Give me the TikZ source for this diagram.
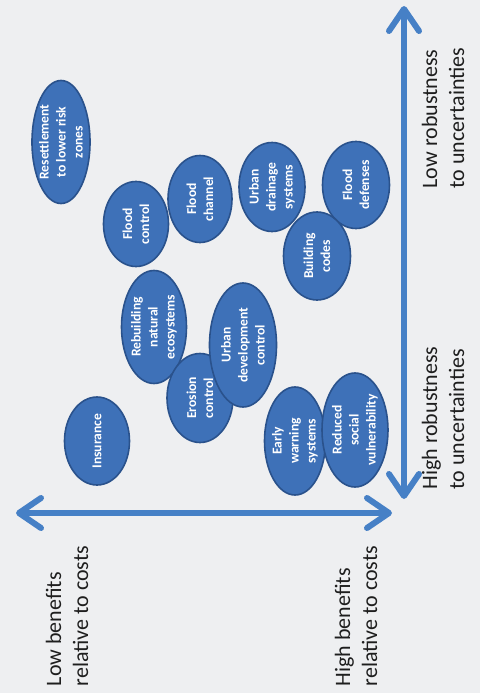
\documentclass[tikz,border=0pt]{standalone}
\usepackage{fontspec}
\setmainfont{Carlito}
\usetikzlibrary{shapes.geometric,arrows.meta}
\definecolor{axisblue}{RGB}{70,128,198}
\definecolor{ellfill}{RGB}{62,113,184}
\definecolor{elledge}{RGB}{42,82,140}
\definecolor{bgcol}{RGB}{238,239,241}
\definecolor{labcol}{RGB}{30,30,30}
\begin{document}
\begin{tikzpicture}[x=1pt,y=-1pt,
  optshape/.style={ellipse, draw=elledge, line width=1.6pt, fill=ellfill, inner sep=0pt, rotate=90},
  opttext/.style={text=white, font=\fontsize{13.6}{17}\selectfont\bfseries, align=center, inner sep=0pt, rotate=90},
  axislabel/.style={font=\fontsize{22}{27}\selectfont, align=left, rotate=90, text=labcol, inner sep=0pt},
  axisline/.style={line width=6pt, draw=axisblue, line cap=round,
    {Straight Barb[length=22pt, width=30pt, line width=6pt, round]}-{Straight Barb[length=22pt, width=30pt, line width=6pt, round]}}]
\useasboundingbox (0,0) rectangle (480,693);
\fill[bgcol] (0,0) rectangle (480,693);

% axes
\coordinate (vtop) at (404,6);
\coordinate (vbot) at (404,499);
\coordinate (hleft) at (16,513);
\coordinate (hright) at (392,513);
\draw[axisline] (vbot) -- (vtop);
\draw[axisline] (hleft) -- (hright);

% axis labels
\node[axislabel] (lowrob) at (443,118) {Low robustness\\to uncertainties};
\node[axislabel] (highrob) at (443,418) {High robustness\\to uncertainties};
\node[axislabel] (lowben) at (67,616) {Low benefits\\relative to costs};
\node[axislabel] (highben) at (356,616) {High benefits\\relative to costs};

% options (minimum width = vertical extent, minimum height = horizontal extent)
\node[optshape, minimum width=123pt, minimum height=58pt] (res) at (61,142) {};
\node[opttext] (res-t) at (res.center) {Resettlement\\to lower risk\\zones};

\node[optshape, minimum width=85pt, minimum height=65pt] (fc) at (136,224) {};
\node[opttext] (fc-t) at (fc.center) {Flood\\control};

\node[optshape, minimum width=87pt, minimum height=64pt] (fch) at (200,199) {};
\node[opttext] (fch-t) at (fch.center) {Flood\\channel};

\node[optshape, minimum width=89pt, minimum height=66pt] (uds) at (272,187) {};
\node[opttext] (uds-t) at (uds.center) {Urban\\drainage\\systems};

\node[optshape, minimum width=87pt, minimum height=67pt] (fd) at (356,185) {};
\node[opttext] (fd-t) at (fd.center) {Flood\\defenses};

\node[optshape, minimum width=88pt, minimum height=67pt] (bc) at (317,256) {};
\node[opttext] (bc-t) at (bc.center) {Building\\codes};

\node[optshape, minimum width=113pt, minimum height=65pt] (rne) at (154,327) {};
\node[opttext] (rne-t) at (rne.center) {Rebuilding\\natural\\ecosystems};

\node[optshape, minimum width=89pt, minimum height=66pt] (ec) at (200,398) {};
\node[opttext] (ec-t) at (ec.center) {Erosion\\control};

\node[optshape, minimum width=124pt, minimum height=67pt] (udc) at (243,345) {};
\node[opttext] (udc-t) at (udc.center) {Urban\\development\\control};

\node[optshape, minimum width=88pt, minimum height=65pt] (ins) at (97,441) {};
\node[opttext] (ins-t) at (ins.center) {Insurance};

\node[optshape, minimum width=108pt, minimum height=61pt] (ews) at (295,441) {};
\node[opttext] (ews-t) at (ews.center) {Early\\warning\\systems};

\node[optshape, minimum width=114pt, minimum height=66pt] (rsv) at (355,430) {};
\node[opttext] (rsv-t) at (rsv.center) {Reduced\\social\\vulnerability};
\end{tikzpicture}
\end{document}
